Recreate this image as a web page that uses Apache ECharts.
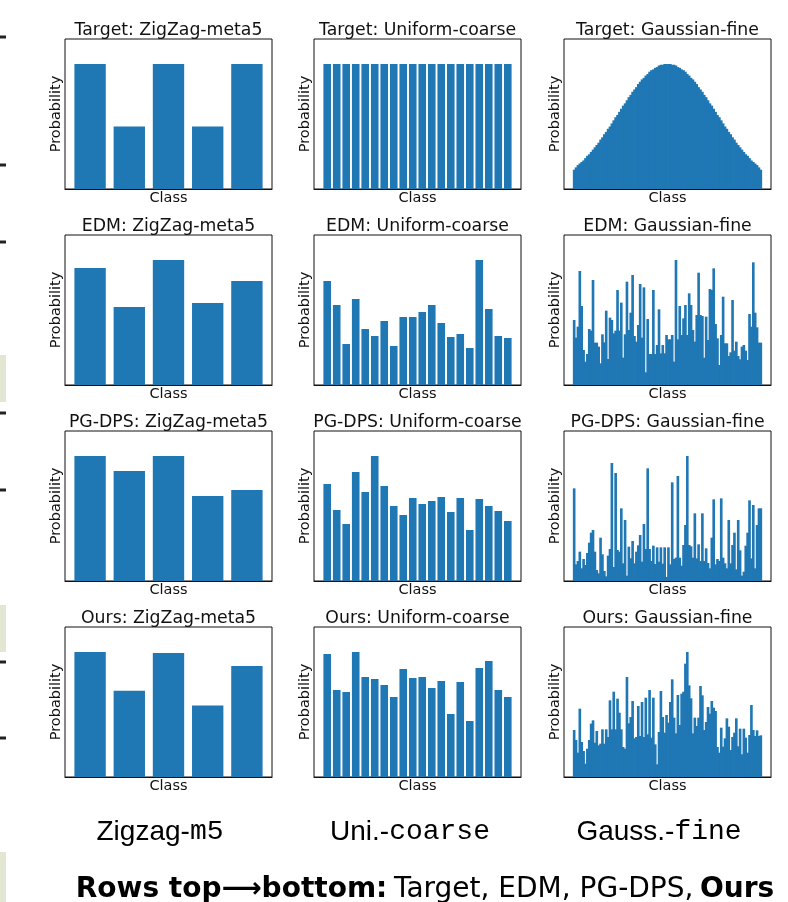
<!DOCTYPE html>
<html><head><meta charset="utf-8">
<script src="https://cdn.jsdelivr.net/npm/echarts@6/dist/echarts.min.js"></script>
<style>html,body{margin:0;padding:0;background:#fff;overflow:hidden}#c{width:788px;height:902px}</style>
</head><body><div id="c"></div>
<script>
// ---- labels ----
const methods = ['Target', 'EDM', 'PG-DPS', 'Ours'];
const datasets = ['ZigZag-meta5', 'Uniform-coarse', 'Gaussian-fine'];
const columnCaptions = [['Zigzag-', 'm5'], ['Uni.-', 'coarse'], ['Gauss.-', 'fine']];
const xName = 'Class';
const yName = 'Probability';

// ---- data (relative probability heights) ----
// ZigZag-meta5 (5 classes)
const zigTarget = [2, 1, 2, 1, 2];
const zigEDM    = [117, 78, 125, 82, 104];
const zigPGDPS  = [125, 110, 125, 85, 91];
const zigOurs   = [126, 87, 125, 72, 112];

// Uniform-coarse (20 classes)
const uniTarget = [1,1,1,1,1,1,1,1,1,1,1,1,1,1,1,1,1,1,1,1];
const uniEDM    = [312,240,123,258,168,147,192,117,204,204,219,240,186,144,153,111,375,228,147,141];
const uniPGDPS  = [291,213,171,327,267,375,285,225,198,249,231,240,252,207,249,153,246,225,210,180];
const uniOurs   = [369,261,255,375,300,294,276,240,324,297,300,267,288,189,285,168,327,348,261,240];

// Gaussian-fine (100 classes)
const gauTarget = [25,28,31,33,35,37,40,43,45,48,51,54,57,60,64,67,71,74,78,81,85,89,93,96,100,104,108,111,115,119,122,126,129,132,136,139,142,144,147,149,152,154,155,157,158,160,161,161,162,162,
                   162,162,161,161,160,158,157,155,154,152,149,147,144,142,139,136,132,129,126,122,119,115,111,108,104,100,96,93,89,85,81,78,74,71,67,64,60,57,54,51,48,45,43,40,37,35,33,31,28,25];
const gauEDM = [195,142,175,342,237,105,70,93,168,163,315,127,127,115,65,152,128,223,78,202,
                195,155,163,285,163,247,82,152,310,165,217,330,147,130,180,303,142,293,38,198,
                93,93,285,93,120,227,95,120,95,150,137,137,150,70,375,137,237,150,200,240,
                150,275,240,165,130,210,337,210,207,82,205,135,288,285,350,183,140,60,150,265,
                125,125,87,98,255,103,130,87,77,115,120,103,75,213,175,368,217,173,127,127];
const gauPGDPS = [278,50,60,88,38,66,48,84,115,145,153,88,33,23,130,80,30,14,76,96,
                  354,42,324,93,88,218,53,183,16,103,68,120,53,88,107,138,58,171,96,338,
                  96,60,106,51,101,58,101,52,101,12,101,50,296,66,70,315,70,46,108,168,
                  375,108,104,70,203,68,110,60,203,60,98,54,38,130,245,50,66,60,248,70,
                  53,38,183,53,108,145,35,183,92,16,28,106,145,242,68,228,38,168,218,218];
const gauOurs = [141,111,73,205,105,78,40,85,111,160,170,103,138,95,100,143,100,143,120,230,
                 143,256,143,235,193,143,90,85,300,161,180,228,116,120,213,123,225,120,238,128,
                 261,118,238,98,38,135,258,180,133,186,163,225,293,178,131,246,156,250,256,340,
                 375,275,236,131,178,153,178,273,245,141,165,210,190,228,208,198,90,73,148,91,
                 116,176,151,81,120,133,176,92,145,68,145,118,73,126,216,141,123,140,123,125];

const table = [
  [zigTarget, uniTarget, gauTarget],
  [zigEDM, uniEDM, gauEDM],
  [zigPGDPS, uniPGDPS, gauPGDPS],
  [zigOurs, uniOurs, gauOurs]
];

// ---- layout ----
const colLeft = [65, 314, 564];
const rowTop = [39, 235, 431, 627];
const W = 207, H = 150;
const barColor = '#1f77b4';
const font = 'DejaVu Sans';

const grids = [], xAxes = [], yAxes = [], series = [], graphics = [];
let k = 0;
for (let r = 0; r < 4; r++) {
  for (let c = 0; c < 3; c++) {
    const vals = table[r][c];
    const n = vals.length;
    const pad = 0.05 * (n - 0.2);
    const xmin = -0.4 - pad, xmax = n - 0.6 + pad;
    grids.push({left: colLeft[c], top: rowTop[r], width: W, height: H,
      show: true, borderColor: '#111', borderWidth: 1, backgroundColor: 'transparent'});
    xAxes.push({gridIndex: k, type: 'value', min: xmin, max: xmax, z: 5,
      axisLine: {show: true, onZero: false, lineStyle: {color: '#111', width: 1}},
      axisTick: {show: false}, axisLabel: {show: false}, splitLine: {show: false},
      name: xName, nameLocation: 'middle', nameGap: 2,
      nameTextStyle: {fontFamily: font, fontSize: 14.5, color: '#111', verticalAlign: 'top'}});
    yAxes.push({gridIndex: k, type: 'value', min: 0, max: v => v.max * 1.2,
      axisLine: {show: false}, axisTick: {show: false}, axisLabel: {show: false}, splitLine: {show: false},
      name: yName, nameLocation: 'middle', nameRotate: 90, nameGap: 1,
      nameTextStyle: {fontFamily: font, fontSize: 14.5, color: '#111', verticalAlign: 'bottom'}});
    // fine bars merge visually into a solid area in the reference
    const fine = n > 50;
    const bw = (fine ? 1.4 : 0.8) * W / (xmax - xmin);
    series.push({type: 'bar', xAxisIndex: k, yAxisIndex: k, barWidth: bw, barMaxWidth: bw, barMinWidth: 0,
      data: vals.map((v, i) => [i, v]),
      itemStyle: {color: barColor},
      silent: true});
    graphics.push({type: 'text', x: colLeft[c] + W / 2, y: rowTop[r] - 8,
      style: {text: methods[r] + ': ' + datasets[c], fill: '#111', font: '17.3px "' + font + '"',
        align: 'center', verticalAlign: 'middle'}});
    k++;
  }
}

// column captions
const capX = [160, 410, 659];
columnCaptions.forEach((cc, i) => {
  graphics.push({type: 'text', x: capX[i], y: 832,
    style: {text: '{a|' + cc[0] + '}{b|' + cc[1] + '}', align: 'center', verticalAlign: 'middle',
      rich: {a: {fontFamily: 'Liberation Sans', fontSize: 28, color: '#111'},
             b: {fontFamily: 'Liberation Mono', fontSize: 28, color: '#111'}}}});
});
// bottom caption
graphics.push({type: 'text', x: 425, y: 890,
  style: {text: '{b|Rows top\u27F6bottom:}  {n|Target, EDM, PG-DPS,}  {b|Ours}', align: 'center', verticalAlign: 'middle',
    rich: {b: {fontFamily: 'DejaVu Sans', fontSize: 28, fontWeight: 'bold', color: '#111'},
           n: {fontFamily: 'DejaVu Sans', fontSize: 28, color: '#111'}}}});

// page-edge artifacts visible in the reference
[37, 165, 242, 413, 490, 662, 738].forEach(y => graphics.push({type: 'rect', shape: {x: 0, y: y - 1.5, width: 6, height: 3}, style: {fill: '#222'}}));
[[355, 47], [605, 47], [852, 50]].forEach(p => graphics.push({type: 'rect', shape: {x: 0, y: p[0], width: 6, height: p[1]}, style: {fill: '#e1e7d3'}}));

const chart = echarts.init(document.getElementById('c'), null, {renderer: 'canvas'});
chart.setOption({animation: false, grid: grids, xAxis: xAxes, yAxis: yAxes, series: series, graphic: graphics});
</script></body></html>
